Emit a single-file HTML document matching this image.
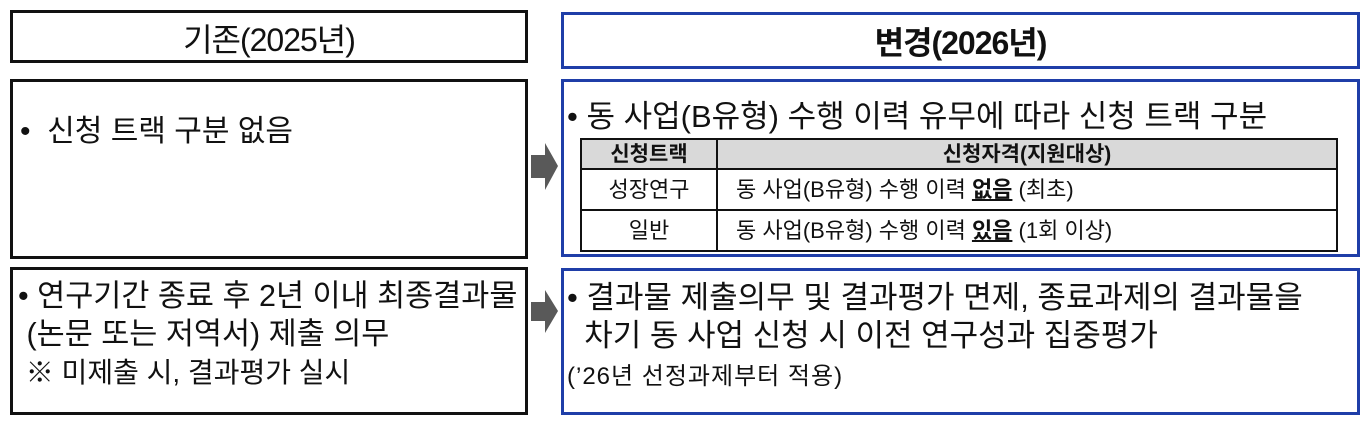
<!DOCTYPE html>
<html><head><meta charset="utf-8"><style>
body{margin:0;width:1368px;height:423px;background:#fff;position:relative;overflow:hidden;font-family:"Liberation Sans","Noto Sans CJK KR",sans-serif;color:#111}
.b{position:absolute;box-sizing:border-box}
.k{border:3px solid #111}
.u{border:3px solid #1f3ea8}
.t{position:absolute;white-space:nowrap}
table{position:absolute;border-collapse:collapse;font-size:22px;left:580px;top:138px;width:758px}
td{border:2px solid #111;text-align:center;padding:0;line-height:1}
.l{text-align:left;padding-left:18px}
</style></head><body>
<div class="b k" style="left:10px;top:10px;width:518px;height:53px"></div>
<div class="t" style="left:10px;width:518px;top:15px;text-align:center;font-size:32px;letter-spacing:-1px">기존(2025년)</div>
<div class="b u" style="left:561px;top:12px;width:799px;height:57px"></div>
<div class="t" style="left:561px;width:799px;top:18px;text-align:center;font-size:32px;font-weight:bold;letter-spacing:-1px">변경(2026년)</div>

<div class="b k" style="left:10px;top:79px;width:518px;height:180px"></div>
<div class="t" style="left:20px;top:106px;font-size:30px">•&nbsp; 신청 트랙 구분 없음</div>
<div class="b u" style="left:561px;top:79px;width:799px;height:178px"></div>
<div class="t" style="left:567px;top:91px;font-size:31px">• 동 사업(B유형) 수행 이력 유무에 따라 신청 트랙 구분</div>
<table>
<tr style="height:30px;background:#d9d9d9;font-weight:bold;font-size:21px"><td style="width:134px">신청트랙</td><td>신청자격(지원대상)</td></tr>
<tr style="height:41px"><td>성장연구</td><td class="l">동 사업(B유형) 수행 이력 <b><u>없음</u></b> (최초)</td></tr>
<tr style="height:41px"><td>일반</td><td class="l">동 사업(B유형) 수행 이력 <b><u>있음</u></b> (1회 이상)</td></tr>
</table>

<div class="b k" style="left:10px;top:267px;width:518px;height:148px"></div>
<div class="t" style="left:18px;top:277px;font-size:30.5px;line-height:38px">• 연구기간 종료 후 2년 이내 최종결과물<br>&nbsp;(논문 또는 저역서) 제출 의무<br><span style="font-size:28px">&nbsp;※ 미제출 시, 결과평가 실시</span></div>
<div class="b u" style="left:561px;top:268px;width:799px;height:147px"></div>
<div class="t" style="left:567px;top:279px;font-size:31px;line-height:38px">• 결과물 제출의무 및 결과평가 면제, 종료과제의 결과물을<br>&nbsp; 차기 동 사업 신청 시 이전 연구성과 집중평가</div>
<div class="t" style="left:567px;top:356px;font-size:24px;letter-spacing:1px">(’26년 선정과제부터 적용)</div>

<svg class="b" style="left:530px;top:140px" width="30" height="200"><polygon points="1,15 15,15 15,3 28,26 15,50 15,38 1,38" fill="#595959"/><polygon points="1,162 15,162 15,150 28,171 15,193 15,181 1,181" fill="#595959"/></svg>
</body></html>
